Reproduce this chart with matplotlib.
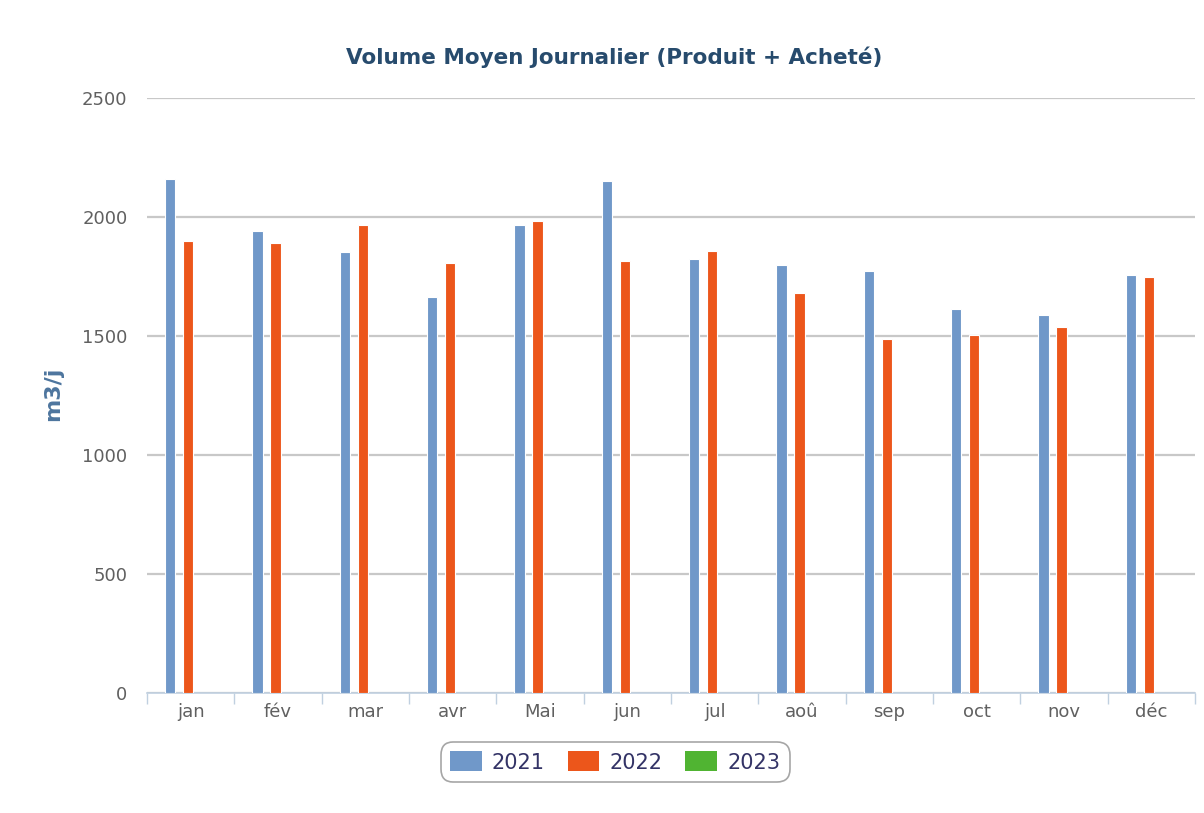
import numpy as np
import matplotlib.pyplot as plt
from matplotlib.patches import Patch

months = ['jan', 'fév', 'mar', 'avr', 'Mai', 'jun', 'jul', 'aoû', 'sep', 'oct', 'nov', 'déc']
years = ['2021', '2022', '2023']
vol_2021 = [2160, 1941, 1855, 1664, 1966, 2151, 1824, 1798, 1773, 1613, 1588, 1756]
vol_2022 = [1899, 1891, 1966, 1807, 1983, 1815, 1857, 1681, 1487, 1504, 1538, 1748]
vol_2023 = []  # pas encore de données
colors = ['#7098c9', '#ec561b', '#50b432']

plt.rcParams['font.family'] = ['DejaVu Sans']

fig = plt.figure(figsize=(12.04, 8.13), dpi=100)
ax = fig.add_axes([147 / 1204, 1 - 693 / 813, (1195 - 147) / 1204, (693 - 98) / 813])

x = np.arange(len(months))
step = 0.206
width = 0.118
series = [vol_2021, vol_2022, vol_2023]
for k, vals in enumerate(series):
    if not vals:
        continue
    ax.bar(x + (k - 1) * step - 0.03, vals, width=width, color=colors[k],
           edgecolor='white', linewidth=0.8, zorder=3)

ax.set_xlim(-0.5, len(months) - 0.5)
ax.set_ylim(0, 2500)
ax.set_yticks(np.arange(0, 2501, 500))
ax.yaxis.grid(True, color='#c8c8c8', linewidth=1.6, zorder=0)
ax.set_axisbelow(True)

ax.set_xticks(x)
ax.set_xticklabels(months)
ax.set_xticks(np.arange(-0.5, len(months)), minor=True)
ax.tick_params(axis='x', which='major', length=0, pad=7, labelsize=13, labelcolor='#606060')
ax.tick_params(axis='x', which='minor', length=8, width=1, color='#c0d0e0', direction='out')
ax.tick_params(axis='y', length=0, pad=14, labelsize=13, labelcolor='#606060')

for side in ['top', 'right', 'left']:
    ax.spines[side].set_visible(False)
ax.spines['bottom'].set_color('#c0d0e0')
ax.spines['bottom'].set_linewidth(1.2)

ax.set_ylabel('m3/j', fontsize=16, fontweight='bold', color='#4d759e')
ax.yaxis.set_label_coords(-0.080, 0.503)
fig.text(0.51, 1 - 57 / 813, 'Volume Moyen Journalier (Produit + Acheté)',
         ha='center', va='center', fontsize=15.5, fontweight='bold', color='#274b6d')

handles = [Patch(facecolor=c, edgecolor='none', label=y) for c, y in zip(colors, years)]
leg = fig.legend(handles=handles, loc='center', bbox_to_anchor=(0.511, 1 - 762 / 813),
                 ncol=3, frameon=True, fontsize=15, handlelength=1.5, handleheight=1.1,
                 handletextpad=0.5, columnspacing=1.1, borderpad=0.45, labelcolor='#333366')
frame = leg.get_frame()
frame.set_edgecolor('#909090')
frame.set_linewidth(1.2)
frame.set_boxstyle('round', pad=0.0, rounding_size=0.6)

fig.savefig('out.png', dpi=100, facecolor='white')
